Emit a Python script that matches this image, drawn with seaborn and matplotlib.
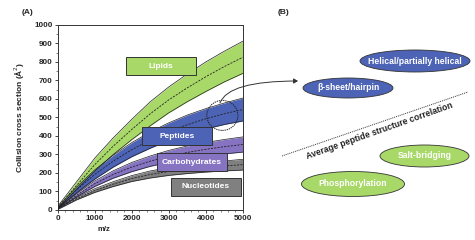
import numpy as np
import pandas as pd
import matplotlib
matplotlib.use("Agg")
import matplotlib.pyplot as plt
from matplotlib.patches import Ellipse, FancyArrowPatch, Rectangle
import seaborn as sns

# -------------------------
# data
# -------------------------
mz = [0, 500, 1000, 1500, 2000, 2500, 3000, 3500, 4000, 4500, 5000]

lipids_mid = [15, 130, 245, 345, 435, 520, 595, 660, 720, 775, 825]
lipids_hw = [5, 20, 35, 45, 55, 65, 70, 75, 80, 83, 87]

peptides_mid = [12, 107, 192, 264, 326, 378, 423, 461, 493, 520, 543]
peptides_hw = [3, 15, 25, 32, 38, 44, 48, 52, 55, 58, 62]

carbs_mid = [8, 78, 142, 192, 232, 264, 290, 311, 328, 342, 354]
carbs_hw = [2, 8, 15, 20, 25, 28, 32, 35, 37, 39, 41]

nucl_mid = [5, 60, 105, 140, 170, 192, 208, 220, 230, 238, 245]
nucl_hw = [2, 6, 10, 13, 16, 19, 21, 23, 25, 27, 29]

classes = ["Lipids", "Peptides", "Carbohydrates", "Nucleotides"]
class_colors = ["#a8d868", "#4d63b5", "#8673c2", "#808080"]

structures = ["Helical/partially helical", "\u03b2-sheet/hairpin", "Salt-bridging", "Phosphorylation"]
struct_colors = ["#4d63b5", "#4d63b5", "#a8d868", "#a8d868"]

mids = [lipids_mid, peptides_mid, carbs_mid, nucl_mid]
hws = [lipids_hw, peptides_hw, carbs_hw, nucl_hw]

rows = []
for name, m, h in zip(classes, mids, hws):
    for x, y, w in zip(mz, m, h):
        rows.append({"mz": x, "ccs": y, "lo": y - w, "hi": y + w, "cls": name})
df = pd.DataFrame(rows)

# -------------------------
# figure
# -------------------------
sns.set_style("ticks")
plt.rcParams['font.family'] = ['Liberation Sans', 'DejaVu Sans']

fig = plt.figure(figsize=(4.75, 2.4), dpi=100)
ax = fig.add_axes([0.1215, 0.125, 0.3895, 0.771])

for name, col in zip(classes, class_colors):
    d = df[df["cls"] == name]
    ax.fill_between(d["mz"], d["lo"], d["hi"], color=col, lw=0, zorder=2)
    ax.plot(d["mz"], d["lo"], color="#222222", lw=0.5, zorder=3)
    ax.plot(d["mz"], d["hi"], color="#222222", lw=0.5, zorder=3)

sns.lineplot(data=df, x="mz", y="ccs", hue="cls", palette=["#222222"] * 4,
             ax=ax, legend=False, lw=0.6, zorder=4)
for line in ax.get_lines()[-4:]:
    line.set_linestyle((0, (2.5, 1.5)))

# dotted circle marking the peptide region
ax.add_patch(Ellipse((4450, 511), 840, 162, fill=False, ls=(0, (1.2, 0.9)), lw=0.75,
                     ec="#222222", zorder=5))

ax.set_xlim(0, 5000)
ax.set_ylim(0, 1000)
ax.set_xticks(range(0, 5001, 1000))
ax.set_yticks(range(0, 1001, 100))
ax.set_xticks(range(0, 5001, 200), minor=True)
ax.set_yticks(range(0, 1001, 50), minor=True)
ax.tick_params(labelsize=5.9, width=0.6, length=2.2, pad=1.5)
ax.tick_params(which="minor", width=0.4, length=1.2)
for lab in ax.get_xticklabels() + ax.get_yticklabels():
    lab.set_fontweight("bold")
for sp in ax.spines.values():
    sp.set_visible(True)
    sp.set_linewidth(0.7)
    sp.set_color("#333333")
ax.set_xlabel("m/z", fontsize=5.5, fontweight="bold")
ax.xaxis.set_label_coords(0.25, -0.085)
ax.set_ylabel("Collision cross section (\u00c5$^2$)", fontsize=6, fontweight="bold")
ax.yaxis.set_label_coords(-0.165, 0.5)

fig.text(27 / 475, 1 - 12 / 240, "(A)", fontsize=6, fontweight="bold", ha="center", va="center")
fig.text(283 / 475, 1 - 13 / 240, "(B)", fontsize=6, fontweight="bold", ha="center", va="center")

# -------------------------
# overlay in figure pixel coords: label boxes, arrow, panel B
# -------------------------
bx = fig.add_axes([0, 0, 1, 1], facecolor="none")
bx.set_xlim(0, 475)
bx.set_ylim(240, 0)
bx.axis("off")

boxes = [(126, 57), (142, 127), (157, 153), (171, 178)]
for name, col, (x0, y0) in zip(classes, class_colors, boxes):
    bx.add_patch(Rectangle((x0, y0), 70, 17.5, fc=col, ec="#333333", lw=0.7))
    bx.text(x0 + 35, y0 + 9, name, color="white", fontsize=6, fontweight="bold",
            ha="center", va="center")

centers = [(415, 61), (348, 88), (424.5, 156), (353, 184)]
sizes = [(110, 22), (90, 20), (89, 22), (103, 25)]
for txt, col, c, s in zip(structures, struct_colors, centers, sizes):
    bx.add_patch(Ellipse(c, s[0], s[1], fc=col, ec="#333333", lw=0.6))
    bx.text(c[0], c[1], txt, color="white", fontsize=6.2, fontweight="bold", ha="center", va="center")

bx.plot([282, 468], [156, 92], color="#333333", lw=0.7, ls=(0, (1, 1)))
bx.text(379, 131, "Average peptide structure correlation", fontsize=6.2, fontweight="bold",
        rotation=19.5, rotation_mode="anchor", ha="center", va="center", color="#222222")

bx.add_patch(FancyArrowPatch((220, 103), (298, 81), connectionstyle="angle3,angleA=70,angleB=0",
                             arrowstyle="-|>,head_length=2.5,head_width=1.5", lw=0.7,
                             color="#333333", shrinkA=0, shrinkB=0))

fig.savefig("out.png", dpi=100)
